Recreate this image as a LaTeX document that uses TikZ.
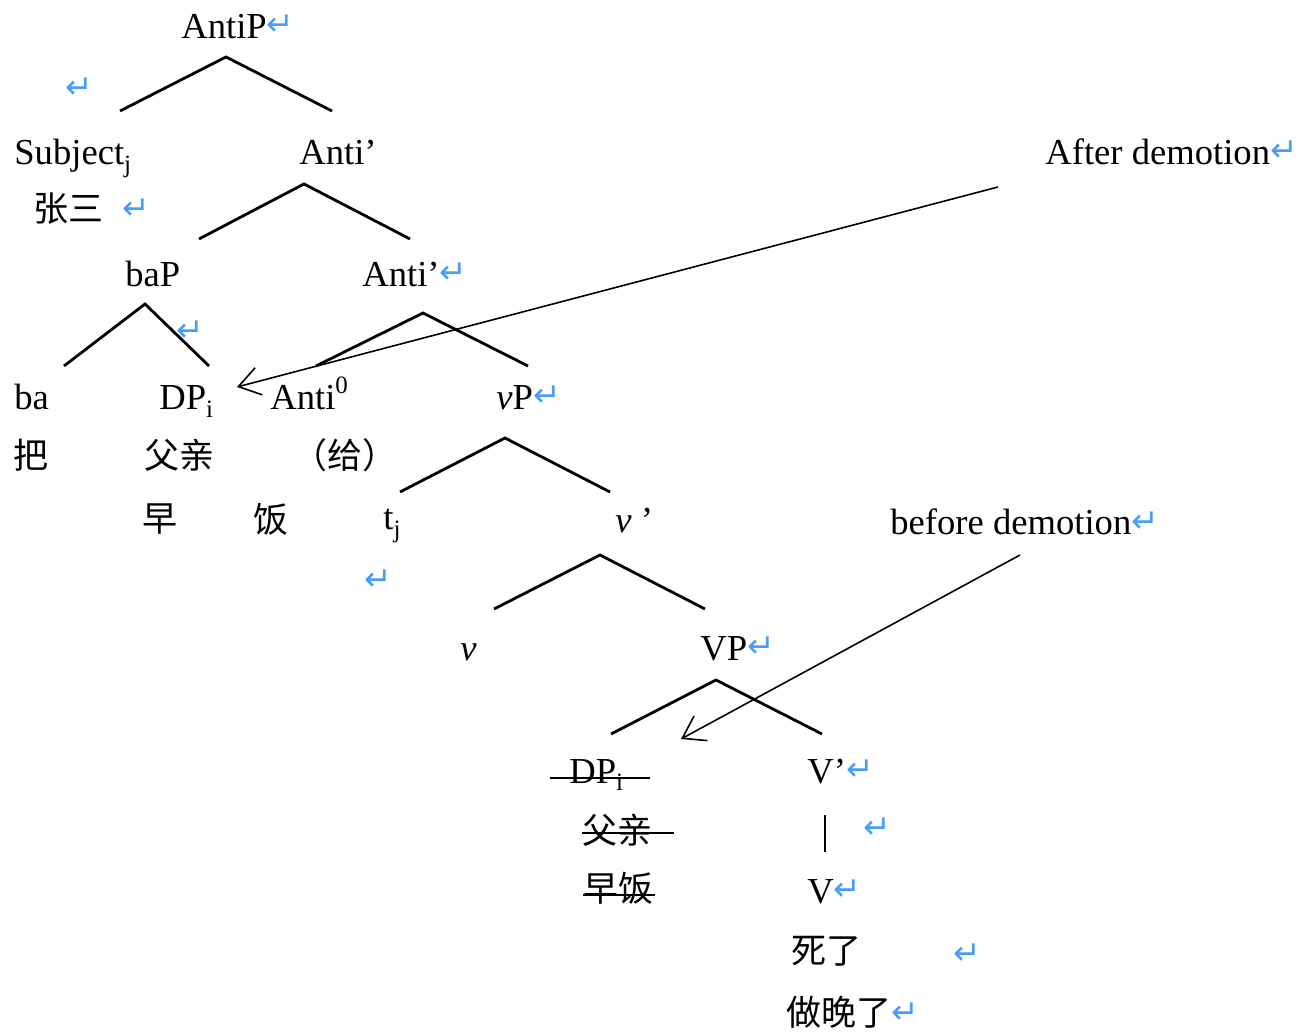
\documentclass[tikz,border=0pt]{standalone}
\usepackage{fontspec}
\setmainfont{Liberation Serif}
\newfontfamily\cjk{Noto Sans CJK SC}
\newfontfamily\dejavu{DejaVu Sans}
\usetikzlibrary{arrows.meta}
\definecolor{pmblue}{RGB}{74,156,250}
% paragraph mark, index subscripts and superscripts
\newcommand{\retmark}{{\color{pmblue}\dejavu\fontsize{16.5}{18}\selectfont\raisebox{1.5pt}{↵}}}
\newcommand{\lowsub}[1]{\raisebox{-0.2em}{\fontsize{12.5}{14}\selectfont #1}}
\newcommand{\highsup}[1]{\raisebox{0.45em}{\fontsize{12.5}{14}\selectfont #1}}
\begin{document}
\begin{tikzpicture}[x=0.5pt,y=-0.5pt,
  lab/.style={inner sep=0pt, anchor=base west, font=\fontsize{18.3}{22}\selectfont},
  hz/.style={inner sep=0pt, anchor=center, font=\cjk\fontsize{17.5}{21}\selectfont},
  ret/.style={inner sep=0pt, anchor=center, text=pmblue, font=\dejavu\fontsize{16.5}{18}\selectfont},
  branch/.style={line width=1.4pt},
  demote/.style={line width=0.8pt, -{Straight Barb[length=10.5pt,width=14pt]}},
  strike/.style={line width=1.1pt}]
\useasboundingbox (0,0) rectangle (1299,1036);

% ---- labels ----
\node[lab] (antip) at (181,39) {AntiP\retmark};
\node[ret] (r1) at (79,88) {↵};
\node[lab] (subj) at (14,165) {Subject\lowsub{j}};
\node[hz] (zs) at (68,209) {张三};
\node[ret] (r2) at (136,209) {↵};
\node[lab] (antibar1) at (299,165) {Anti’};
\node[lab] (after) at (1045,165) {After demotion\retmark};
\node[lab] (bap) at (125,287) {baP};
\node[lab] (antibar2) at (362,287) {Anti’\retmark};
\node[ret] (r3) at (190,331) {↵};
\node[lab] (ba) at (14,410) {ba};
\node[lab] (dp) at (159,410) {DP\lowsub{i}};
\node[lab] (anti0) at (270,410) {Anti\highsup{0}};
\node[lab] (vp) at (496,410) {\textit{v}P\retmark};
\node[hz] (ba-zh) at (31,455) {把};
\node[hz] (fq) at (179,455) {父亲};
\node[hz] (gei) at (345,455) {（给）};
\node[hz] (zao) at (160,519) {早};
\node[hz] (fan) at (271,519) {饭};
\node[lab] (tj) at (383,530) {t\lowsub{j}};
\node[lab] (vbar) at (615,532) {\textit{v} ’};
\node[lab] (before) at (890,535) {before demotion\retmark};
\node[ret] (r4) at (378,580) {↵};
\node[lab] (v) at (460,660) {\textit{v}};
\node[lab] (VP) at (700,660) {VP\retmark};
\node[lab] (dpx) at (569,783) {DP\lowsub{i}};
\node[lab] (Vbar) at (807,783) {V’\retmark};
\node[hz] (fqx) at (617,830) {父亲};
\node[ret] (r5) at (877,828) {↵};
\node[hz] (zfx) at (618,888) {早饭};
\node[lab] (V) at (807,903) {V\retmark};
\node[hz] (sl) at (826,951) {死了};
\node[ret] (r6) at (967,954) {↵};
\node[hz] (zwl) at (839,1012) {做晚了};
\node[ret] (r7) at (905,1013) {↵};

% ---- branch points ----
\coordinate (a1) at (226,57);  \coordinate (a1l) at (120,111); \coordinate (a1r) at (332,111);
\coordinate (a2) at (304,184); \coordinate (a2l) at (199,239); \coordinate (a2r) at (410,239);
\coordinate (a3) at (145,304); \coordinate (a3l) at (64,366);  \coordinate (a3r) at (209,366);
\coordinate (a4) at (423,313); \coordinate (a4l) at (316,366); \coordinate (a4r) at (528,366);
\coordinate (a5) at (505,438); \coordinate (a5l) at (400,492); \coordinate (a5r) at (610,492);
\coordinate (a6) at (600,555); \coordinate (a6l) at (494,609); \coordinate (a6r) at (705,609);
\coordinate (a7) at (716,680); \coordinate (a7l) at (611,734); \coordinate (a7r) at (822,734);
\coordinate (a8t) at (825,815); \coordinate (a8b) at (825,852);

\draw[branch] (a1l) -- (a1) -- (a1r);
\draw[branch] (a2l) -- (a2) -- (a2r);
\draw[branch] (a3l) -- (a3) -- (a3r);
\draw[branch] (a4l) -- (a4) -- (a4r);
\draw[branch] (a5l) -- (a5) -- (a5r);
\draw[branch] (a6l) -- (a6) -- (a6r);
\draw[branch] (a7l) -- (a7) -- (a7r);
\draw[line width=1.1pt] (a8t) -- (a8b);

% ---- demotion arrows ----
\coordinate (after-tail) at (998,187);  \coordinate (after-tip) at (237,387);
\coordinate (before-tail) at (1020,555); \coordinate (before-tip) at (681,739);
\draw[demote] (after-tail) -- (after-tip);
\draw[demote] (before-tail) -- (before-tip);

% ---- struck-out copy ----
\draw[strike] ([shift={(-19,-5)}]dpx.base west) -- ([shift={(26,-5)}]dpx.base east);
\draw[strike] ([shift={(0,3)}]fqx.west) -- ([shift={(22,3)}]fqx.east);
\draw[strike] ([shift={(0,7)}]zfx.west) -- ([shift={(2,7)}]zfx.east);
\end{tikzpicture}
\end{document}
